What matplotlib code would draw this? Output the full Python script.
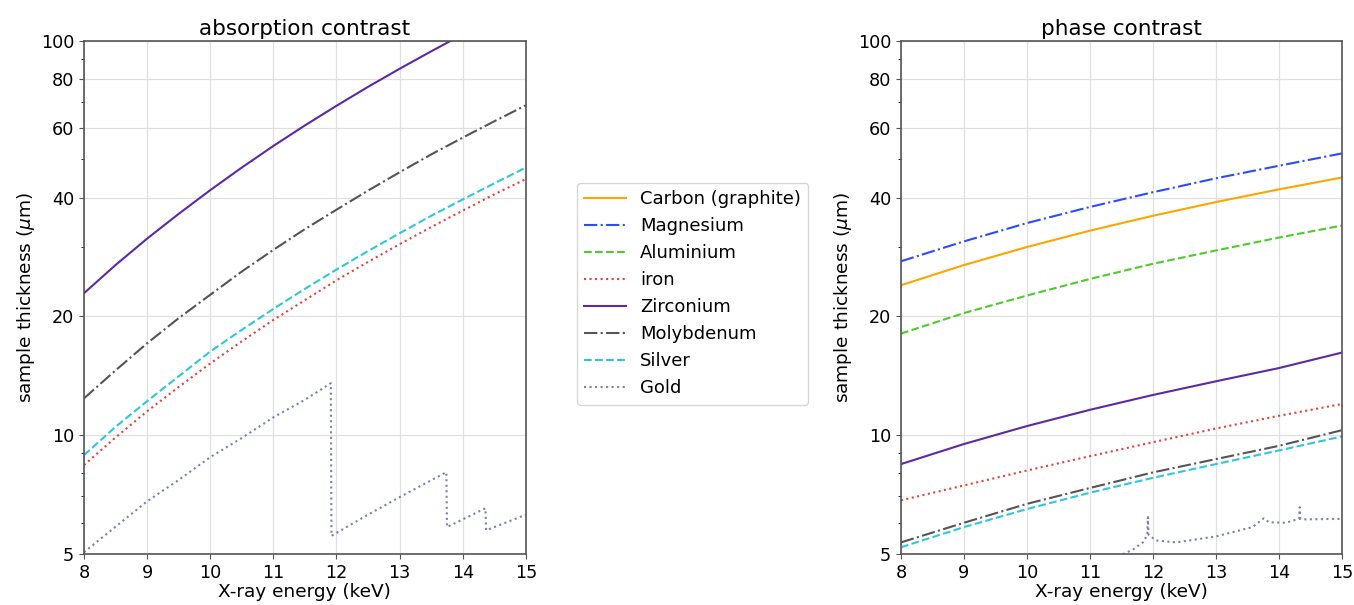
import matplotlib
matplotlib.use("Agg")
import matplotlib.pyplot as plt
from matplotlib.ticker import FixedLocator, NullFormatter, FixedFormatter

# ---------------- data ----------------
energy = [8, 9, 10, 11, 12, 13, 14, 15]  # keV (phase contrast)
energy_fine = [8, 8.5, 9, 9.5, 10, 10.5, 11, 11.5, 12, 12.5, 13, 13.5, 14, 14.5, 15]

# absorption contrast (um)
abs_zirconium = [22.9, 27.0, 31.5, 36.4, 41.8, 47.7, 54.1, 61.0, 68.4, 76.4, 84.9, 94.0, 103.8, 114.0, 125.0]
abs_molybdenum = [12.4, 14.6, 17.1, 19.8, 22.7, 26.0, 29.5, 33.3, 37.3, 41.7, 46.4, 51.5, 56.8, 62.5, 68.6]
abs_silver = [8.9, 10.5, 12.2, 14.1, 16.3, 18.5, 20.9, 23.5, 26.3, 29.3, 32.5, 36.0, 39.6, 43.5, 47.7]
abs_iron = [8.4, 9.87, 11.5, 13.25, 15.2, 17.3, 19.6, 22.0, 24.7, 27.5, 30.5, 33.7, 37.1, 40.8, 44.6]
abs_gold_energy = [8, 8.5, 9, 9.5, 10, 10.5, 11, 11.5, 11.91, 11.92, 12.5, 13, 13.5, 13.74, 13.75,
                   14.36, 14.37, 15]
abs_gold = [5.05, 5.86, 6.8, 7.7, 8.8, 9.84, 11.1, 12.3, 13.55, 5.56, 6.29, 6.97, 7.69, 8.06, 5.85,
            6.53, 5.74, 6.29]

# phase contrast (um)
ph_carbon = [24.0, 27.0, 30.0, 33.0, 36.0, 39.0, 42.0, 45.0]
ph_magnesium = [27.6, 31.0, 34.5, 37.9, 41.3, 44.8, 48.2, 51.8]
ph_aluminium = [18.1, 20.4, 22.6, 24.9, 27.2, 29.4, 31.7, 34.0]
ph_iron = [6.84, 7.46, 8.14, 8.85, 9.6, 10.4, 11.2, 12.0]
ph_zirconium = [8.45, 9.5, 10.55, 11.6, 12.65, 13.7, 14.8, 16.2]
ph_molybdenum = [5.35, 6.0, 6.7, 7.35, 8.05, 8.7, 9.4, 10.3]
ph_silver = [5.2, 5.85, 6.5, 7.15, 7.8, 8.45, 9.15, 9.93]
ph_gold_energy = [11.45, 11.53, 11.68, 11.84, 11.91, 11.92, 11.93, 12.05, 12.37,
                  13.0, 13.58, 13.76, 13.84, 14.11, 14.32, 14.33, 14.34, 14.42, 15.0]
ph_gold = [4.9, 5.0, 5.13, 5.35, 5.59, 6.20, 5.59, 5.41, 5.35,
           5.54, 5.85, 6.16, 6.02, 6.0, 6.14, 6.57, 6.14, 6.12, 6.14]

names = ["Carbon (graphite)", "Magnesium", "Aluminium", "iron",
         "Zirconium", "Molybdenum", "Silver", "Gold"]
colors = {"Carbon (graphite)": "#ffa500", "Magnesium": "#2b4bff",
          "Aluminium": "#4ccc2a", "iron": "#e8403a", "Zirconium": "#5b2aa6",
          "Molybdenum": "#555555", "Silver": "#2ec8dc", "Gold": "#7a80b4"}
styles = {"Carbon (graphite)": "-", "Magnesium": "-.", "Aluminium": "--",
          "iron": ":", "Zirconium": "-", "Molybdenum": "-.", "Silver": "--",
          "Gold": ":"}

yticks = [5, 10, 20, 40, 60, 80, 100]
yminor = [6, 7, 8, 9, 30, 50, 70, 90]
xticks = [8, 9, 10, 11, 12, 13, 14, 15]

plt.rcParams["font.family"] = ["DejaVu Sans"]
fig = plt.figure(figsize=(13.54, 6.05), dpi=100)
ax1 = fig.add_axes([0.062, 0.0843, 0.3264, 0.8484])
ax2 = fig.add_axes([0.6654, 0.0843, 0.3257, 0.8484])

lw = 1.5
# absorption
ax1.plot(energy_fine, abs_iron, ls=styles["iron"], color=colors["iron"], lw=lw, label="iron")
ax1.plot(energy_fine, abs_zirconium, ls=styles["Zirconium"], color=colors["Zirconium"], lw=lw, label="Zirconium")
ax1.plot(energy_fine, abs_molybdenum, ls=styles["Molybdenum"], color=colors["Molybdenum"], lw=lw, label="Molybdenum")
ax1.plot(energy_fine, abs_silver, ls=styles["Silver"], color=colors["Silver"], lw=lw, label="Silver")
ax1.plot(abs_gold_energy, abs_gold, ls=styles["Gold"], color=colors["Gold"], lw=lw, label="Gold")

# phase
series = {"Carbon (graphite)": ph_carbon, "Magnesium": ph_magnesium,
          "Aluminium": ph_aluminium, "iron": ph_iron, "Zirconium": ph_zirconium,
          "Molybdenum": ph_molybdenum, "Silver": ph_silver}
handles = []
for n in names[:-1]:
    h, = ax2.plot(energy, series[n], ls=styles[n], color=colors[n], lw=lw, label=n)
    handles.append(h)
h, = ax2.plot(ph_gold_energy, ph_gold, ls=styles["Gold"], color=colors["Gold"], lw=lw, label="Gold")
handles.append(h)

for ax, title in [(ax1, "absorption contrast"), (ax2, "phase contrast")]:
    ax.set_yscale("log")
    ax.set_ylim(5, 100)
    ax.set_xlim(8, 15)
    ax.yaxis.set_major_locator(FixedLocator(yticks))
    ax.yaxis.set_major_formatter(FixedFormatter([str(t) for t in yticks]))
    ax.yaxis.set_minor_locator(FixedLocator(yminor))
    ax.yaxis.set_minor_formatter(NullFormatter())
    ax.set_xticks(xticks)
    ax.grid(True, which="major", color="#e0e0e0", lw=0.9)
    ax.set_axisbelow(True)
    ax.tick_params(labelsize=12.7, color="#555555")
    for s in ax.spines.values():
        s.set_color("#555555")
        s.set_linewidth(1.2)
    ax.set_title(title, fontsize=15.5, pad=4)
    ax.set_xlabel("X-ray energy (keV)", fontsize=13.3, labelpad=1)
    ax.set_ylabel(r"sample thickness ($\mu$m)", fontsize=13.3, labelpad=3)

fig.legend(handles=handles, labels=names, loc="upper left",
           bbox_to_anchor=(577 / 1354, 1 - 183 / 605), fontsize=13,
           handlelength=2.3, borderaxespad=0.0)

fig.savefig("out.png", dpi=100)
